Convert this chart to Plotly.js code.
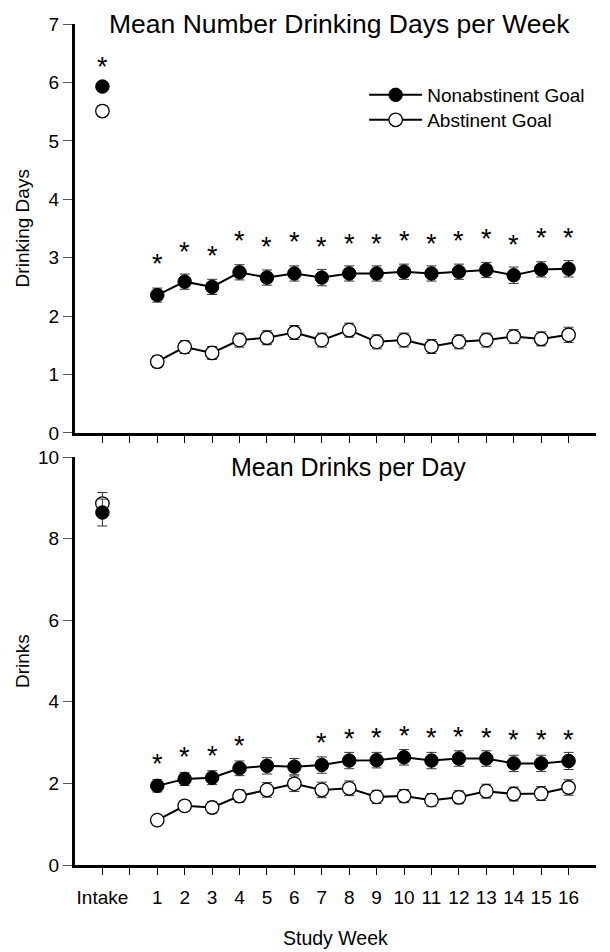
<!DOCTYPE html>
<html>
<head>
<meta charset="utf-8">
<script src="https://cdn.plot.ly/plotly-3.0.1.min.js"></script>
<style>html,body{margin:0;padding:0;background:#fff;}#chart{width:610px;height:952px;}</style>
</head>
<body>
<div id="chart"></div>
<script>
// ---- categories ----
const categories = ['Intake', ' ', '1','2','3','4','5','6','7','8','9','10','11','12','13','14','15','16'];
const intake = ['Intake'];
const weeks = ['1','2','3','4','5','6','7','8','9','10','11','12','13','14','15','16'];

// ---- Mean Number Drinking Days per Week ----
const daysNonIntake = [5.93];
const daysNonIntakeErr = [0.08];
const daysAbsIntake = [5.51];
const daysAbsIntakeErr = [0.09];
const daysNon = [2.36,2.59,2.50,2.75,2.66,2.73,2.66,2.73,2.73,2.76,2.73,2.76,2.79,2.70,2.80,2.81];
const daysNonErr = [0.12,0.13,0.13,0.13,0.13,0.13,0.14,0.13,0.13,0.13,0.13,0.13,0.13,0.14,0.13,0.14];
const daysAbs = [1.22,1.47,1.37,1.59,1.63,1.72,1.59,1.76,1.56,1.59,1.48,1.56,1.59,1.65,1.61,1.68];
const daysAbsErr = [0.10,0.11,0.11,0.12,0.12,0.12,0.12,0.12,0.12,0.12,0.12,0.12,0.12,0.12,0.12,0.13];
const daysStarX = ['Intake','1','2','3','4','5','6','7','8','9','10','11','12','13','14','15','16'];
const daysStarY = [6.33,2.96,3.17,3.10,3.35,3.26,3.33,3.26,3.30,3.31,3.35,3.31,3.35,3.39,3.29,3.41,3.41];

// ---- Mean Drinks per Day ----
const drinksNonIntake = [8.64];
const drinksNonIntakeErr = [0.33];
const drinksAbsIntake = [8.86];
const drinksAbsIntakeErr = [0.27];
const drinksNon = [1.94,2.11,2.14,2.37,2.43,2.41,2.45,2.56,2.57,2.64,2.56,2.61,2.61,2.49,2.49,2.55];
const drinksNonErr = [0.15,0.16,0.17,0.18,0.20,0.20,0.20,0.20,0.19,0.19,0.20,0.19,0.19,0.20,0.20,0.21];
const drinksAbs = [1.10,1.45,1.41,1.69,1.84,1.99,1.84,1.88,1.67,1.69,1.59,1.66,1.81,1.74,1.75,1.90];
const drinksAbsErr = [0.08,0.12,0.14,0.15,0.18,0.19,0.19,0.18,0.16,0.16,0.16,0.16,0.17,0.17,0.17,0.19];
const drinksStarX = ['1','2','3','4','7','8','9','10','11','12','13','14','15','16'];
const drinksStarY = [2.57,2.74,2.76,3.01,3.08,3.19,3.20,3.27,3.20,3.23,3.22,3.15,3.15,3.17];

const FONT = 'Arial, "Liberation Sans", sans-serif';
const errStyle = (arr) => ({type:'data', array:arr, visible:true, color:'#333', thickness:1, width:5});
const filledMarker = {symbol:'circle', size:13.5, color:'#000', line:{color:'#000', width:1}};
const openMarker = {symbol:'circle', size:13.5, color:'#fff', line:{color:'#000', width:1.3}};
const lineStyle = {color:'#000', width:2};

function panel(xa, ya, nonI, nonIE, absI, absIE, non, nonE, abs, absE, legend) {
  return [
    {x:weeks, y:abs, error_y:errStyle(absE), mode:'lines+markers', marker:openMarker, line:lineStyle,
     xaxis:xa, yaxis:ya, name:'Abstinent Goal', showlegend:legend, legend:'legend2'},
    {x:weeks, y:non, error_y:errStyle(nonE), mode:'lines+markers', marker:filledMarker, line:lineStyle,
     xaxis:xa, yaxis:ya, name:'Nonabstinent Goal', showlegend:legend, legend:'legend'},
    {x:intake, y:absI, error_y:errStyle(absIE), mode:'markers', marker:openMarker,
     xaxis:xa, yaxis:ya, showlegend:false},
    {x:intake, y:nonI, error_y:errStyle(nonIE), mode:'markers', marker:filledMarker,
     xaxis:xa, yaxis:ya, showlegend:false}
  ];
}

const data = [].concat(
  panel('x','y', daysNonIntake, daysNonIntakeErr, daysAbsIntake, daysAbsIntakeErr, daysNon, daysNonErr, daysAbs, daysAbsErr, true),
  panel('x2','y2', drinksNonIntake, drinksNonIntakeErr, drinksAbsIntake, drinksAbsIntakeErr, drinksNon, drinksNonErr, drinksAbs, drinksAbsErr, false)
);

// significance asterisks (annotations on a category axis take the category index)
const starAnn = (xs, ys, xr, yr) => xs.map((xv, i) => ({
  x:categories.indexOf(xv), y:ys[i], xref:xr, yref:yr, text:'*', showarrow:false, xanchor:'center', yanchor:'middle',
  yshift:-4, font:{family:FONT, size:27, color:'#000'}
}));

const xBase = {
  type:'category', categoryorder:'array', categoryarray:categories, range:[-1, 18],
  showline:true, linewidth:3, linecolor:'#000', ticks:'outside', ticklen:7, tickwidth:1, tickcolor:'#000',
  showgrid:false, zeroline:false, fixedrange:true, tickangle:0,
  tickfont:{family:FONT, size:19, color:'#000'}
};
const yBase = {
  showline:true, linewidth:3, linecolor:'#000', ticks:'outside', ticklen:9, tickwidth:1, tickcolor:'#555',
  showgrid:false, zeroline:false, fixedrange:true,
  tickfont:{family:FONT, size:19, color:'#000'}
};

const legBase = {xanchor:'left', yanchor:'middle', bgcolor:'rgba(0,0,0,0)', borderwidth:0,
                 font:{family:FONT, size:19, color:'#000'}, itemwidth:53};

const layout = {
  width:610, height:952,
  margin:{l:75, r:14, t:24, b:87},
  paper_bgcolor:'#fff', plot_bgcolor:'#fff',
  font:{family:FONT, color:'#000'},
  xaxis: Object.assign({}, xBase, {anchor:'y', showticklabels:false}),
  yaxis: Object.assign({}, yBase, {domain:[0.5137, 1], range:[0, 7], dtick:1, tick0:0}),
  xaxis2: Object.assign({}, xBase, {anchor:'y2', showticklabels:true, ticklabelstandoff:6}),
  yaxis2: Object.assign({}, yBase, {domain:[0, 0.4851], range:[0, 10], dtick:2, tick0:0}),
  showlegend:true,
  legend: Object.assign({}, legBase, {x:0.555, y:0.9156}),
  legend2: Object.assign({}, legBase, {x:0.555, y:0.8859}),
  annotations:[
    {text:'Mean Number Drinking Days per Week', xref:'paper', yref:'paper', x:0.5086, y:1.0,
     xanchor:'center', yanchor:'middle', showarrow:false, font:{family:FONT, size:26.5, color:'#000'}},
    {text:'Mean Drinks per Day', xref:'paper', yref:'paper', x:0.524, y:0.4733,
     xanchor:'center', yanchor:'middle', showarrow:false, font:{family:FONT, size:25, color:'#000'}},
    {text:'Drinking Days', xref:'paper', yref:'paper', x:-0.1017, y:0.757, textangle:-90,
     xanchor:'center', yanchor:'middle', showarrow:false, font:{family:FONT, size:19, color:'#000'}},
    {text:'Drinks', xref:'paper', yref:'paper', x:-0.1017, y:0.2425, textangle:-90,
     xanchor:'center', yanchor:'middle', showarrow:false, font:{family:FONT, size:19, color:'#000'}},
    {text:'Study Week', xref:'paper', yref:'paper', x:0.5, y:-0.087,
     xanchor:'center', yanchor:'middle', showarrow:false, font:{family:FONT, size:19.5, color:'#000'}}
  ].concat(starAnn(daysStarX, daysStarY, 'x', 'y'), starAnn(drinksStarX, drinksStarY, 'x2', 'y2'))
};

Plotly.newPlot('chart', data, layout, {staticPlot:true, displayModeBar:false});
</script>
</body>
</html>
